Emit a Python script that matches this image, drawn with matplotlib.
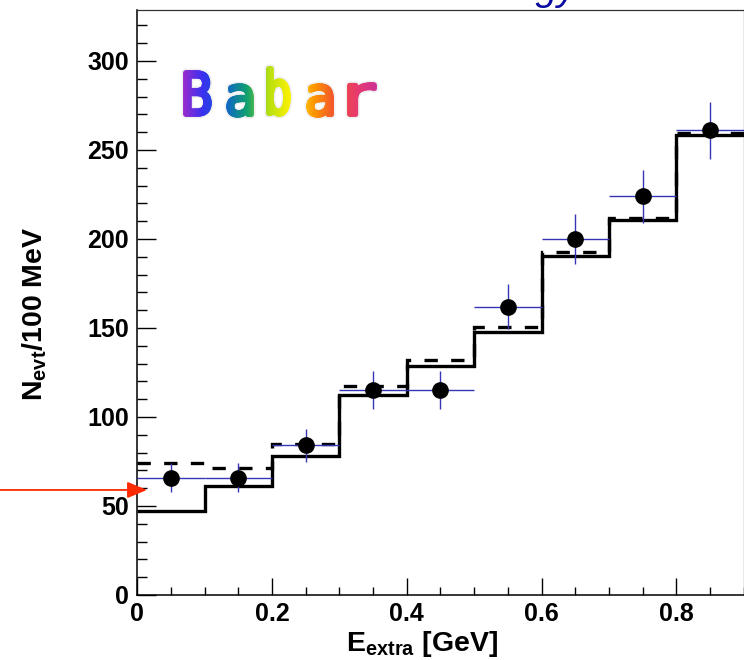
import numpy as np
import matplotlib
matplotlib.use('Agg')
import matplotlib.pyplot as plt
from matplotlib.textpath import TextPath
from matplotlib.font_manager import FontProperties
from matplotlib.patches import PathPatch
from matplotlib.path import Path
from matplotlib.colors import LinearSegmentedColormap
from matplotlib.transforms import Affine2D
from matplotlib.ticker import MultipleLocator

plt.rcParams['font.family'] = ['Liberation Sans', 'DejaVu Sans']
plt.rcParams['font.weight'] = 'bold'
plt.rcParams['mathtext.fontset'] = 'custom'
plt.rcParams['mathtext.rm'] = 'Liberation Sans:bold'
plt.rcParams['mathtext.it'] = 'Liberation Sans:bold'
plt.rcParams['mathtext.bf'] = 'Liberation Sans:bold'
plt.rcParams['mathtext.default'] = 'rm'

# bin edges and centres of E_extra (GeV)
edges = [0.0, 0.1, 0.2, 0.3, 0.4, 0.5, 0.6, 0.7, 0.8, 0.9]
centers = [0.05, 0.15, 0.25, 0.35, 0.45, 0.55, 0.65, 0.75, 0.85]

# measured events per bin with statistical errors
data_counts = [66, 66, 84, 115, 115, 162, 200, 224, 261]
data_errors = [8.1, 8.1, 9.2, 10.7, 10.7, 12.7, 14.1, 15.0, 16.2]
bin_halfwidth = [0.05] * 9

# expectations: solid and dashed histograms
solid_hist = [47.4, 61.2, 78.0, 112.4, 128.5, 148.0, 190.5, 210.7, 258.4]
dashed_hist = [74.0, 71.2, 84.7, 117.2, 132.0, 150.6, 192.9, 212.0, 259.8]

xtick_vals = [0, 0.2, 0.4, 0.6, 0.8]
xtick_labels = ['0', '0.2', '0.4', '0.6', '0.8']
ytick_vals = [0, 50, 100, 150, 200, 250, 300]

arrow_level = 59

fig = plt.figure(figsize=(7.44, 6.6), dpi=100)
ax = fig.add_axes([0.1845, 0.0985, 0.8150, 0.8860])

ax.stairs(dashed_hist, edges, baseline=None, color='black', lw=2.4,
          linestyle=(0, (4, 4)), zorder=2)
ax.stairs(solid_hist, edges, baseline=None, color='black', lw=2.4, zorder=3)

ax.errorbar(centers, data_counts, xerr=bin_halfwidth, yerr=data_errors,
            fmt='none', ecolor='#3535b5', elinewidth=1.0, capsize=0, zorder=4)
ax.plot(centers, data_counts, 'o', color='black', markersize=11, zorder=5)

ax.set_xlim(0, 0.9)
ax.set_ylim(0, 328.5)
ax.set_xticks(xtick_vals)
ax.set_xticklabels(xtick_labels)
ax.set_yticks(ytick_vals)
ax.xaxis.set_minor_locator(MultipleLocator(0.05))
ax.yaxis.set_minor_locator(MultipleLocator(10))
ax.tick_params(axis='both', which='both', direction='in', labelsize=18,
               width=1.0, top=False, right=False)
ax.tick_params(axis='y', which='major', length=13.5, pad=6)
ax.tick_params(axis='y', which='minor', length=7)
ax.tick_params(axis='x', which='major', length=12, pad=5)
ax.tick_params(axis='x', which='minor', length=6)
for lab in ax.get_xticklabels() + ax.get_yticklabels():
    lab.set_fontweight('bold')

ax.spines['left'].set_linewidth(1.1)
ax.spines['bottom'].set_linewidth(1.1)
ax.spines['top'].set_linewidth(0.9)
ax.spines['top'].set_color('#333333')
ax.spines['right'].set_linewidth(0.9)
ax.spines['right'].set_color('#555555')

ax.set_xlabel('E$_{extra}$ [GeV]', fontsize=20.5, fontweight='bold')
ax.xaxis.set_label_coords(0.47, -0.058)
ax.set_ylabel('N$_{evt}$/100 MeV', fontsize=20.5, fontweight='bold')
ax.yaxis.set_label_coords(-0.145, 0.48)

# red marker arrow pointing at the y axis
ax.annotate('', xy=(0.016, arrow_level), xycoords=('axes fraction', 'data'),
            xytext=(-0.24, arrow_level), textcoords=('axes fraction', 'data'),
            arrowprops=dict(arrowstyle='-|>,head_length=1.2,head_width=0.5',
                            color='#ff2a00', lw=1.3, shrinkA=0, shrinkB=0),
            annotation_clip=False, zorder=6)

# title running off the top edge
fig.text(0.775, 1.0, 'Extra Energy', color='#0a0aa0', fontsize=28,
         fontweight='normal', style='italic', ha='right', va='baseline')

# rainbow "Babar" logo, each letter fitted into its own box (figure pixels)
logo = fig.add_axes([0, 0, 1, 1], zorder=10)
logo.set_xlim(0, 744)
logo.set_ylim(660, 0)
logo.axis('off')
logo.patch.set_alpha(0)

prop = FontProperties(family='DejaVu Sans', weight='normal')
letter_boxes = [  # (char, left, right, top, bottom)
    ('B', 185, 210, 72, 115),
    ('a', 228, 252, 85, 116),
    ('b', 268, 289, 68, 115),
    ('a', 308, 332, 85, 116),
    ('r', 349, 375, 84, 115),
]
verts, codes = [], []
for ch, x0, x1, y0, y1 in letter_boxes:
    tp = TextPath((0, 0), ch, size=1, prop=prop)
    ext = tp.get_extents()
    sx = (x1 - x0) / ext.width
    sy = (y1 - y0) / ext.height
    tr = (Affine2D().translate(-ext.x0, -ext.y0)
          .scale(sx, -sy).translate(x0, y1))
    p = tr.transform_path(tp)
    verts.extend(p.vertices)
    codes.extend(p.codes)
logo_path = Path(verts, codes)

rainbow = LinearSegmentedColormap.from_list(
    'rainbow_logo', ['#a82cc8', '#3a30f0', '#1060d0', '#10a070', '#b8e010',
                     '#fff200', '#ff9a00', '#f25030', '#e83a70', '#c8309c'])
gradient = np.linspace(0, 1, 256).reshape(1, -1)

# soft grey halo behind the letters
halo = PathPatch(logo_path, facecolor='#dcdcdc', edgecolor='#dcdcdc',
                 lw=5.0, alpha=0.45, joinstyle='round', zorder=0.5)
logo.add_patch(halo)

# thicken the strokes by stamping the gradient through shifted copies
shifts = [(0, 0)] + [(1.8 * np.cos(a), 1.8 * np.sin(a))
                     for a in np.linspace(0, 2 * np.pi, 12, endpoint=False)]
for dx, dy in shifts:
    clip = PathPatch(Affine2D().translate(dx, dy).transform_path(logo_path),
                     facecolor='none', edgecolor='none')
    logo.add_patch(clip)
    img = logo.imshow(gradient, cmap=rainbow, extent=(180, 380, 120, 62),
                      aspect='auto', interpolation='bilinear', zorder=2)
    img.set_clip_path(clip)

fig.savefig('out.png', dpi=100)
